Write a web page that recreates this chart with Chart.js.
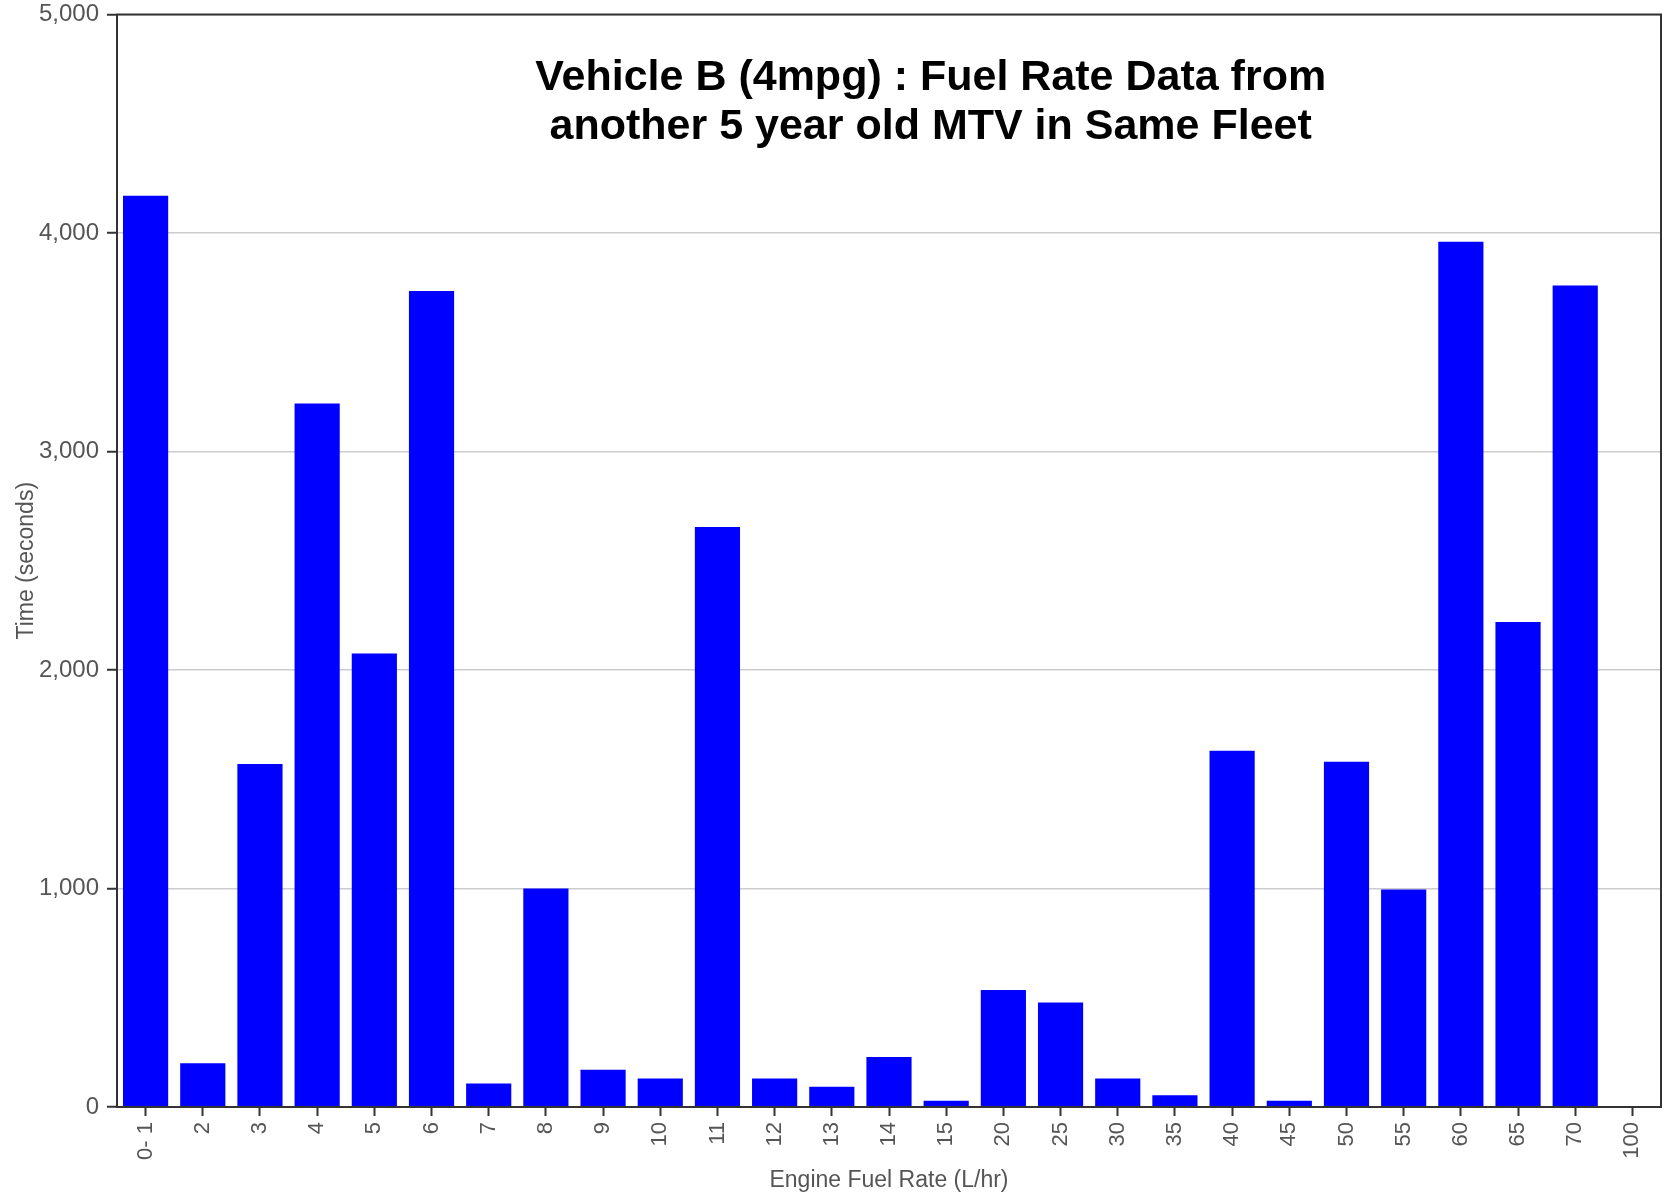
<!DOCTYPE html>
<html>
<head>
<meta charset="utf-8">
<script src="https://cdn.jsdelivr.net/npm/chart.js@4"></script>
<style>
  html, body { margin: 0; padding: 0; background: #fff; }
  canvas { display: block; }
</style>
</head>
<body>
<canvas id="fuelChart" width="1670" height="1194"></canvas>
<script>
// Fuel rate bins (L/hr)
const rateBins = ["0- 1", "2", "3", "4", "5", "6", "7", "8", "9", "10", "11", "12", "13", "14", "15",
    "20", "25", "30", "35", "40", "45", "50", "55", "60", "65", "70", "100"];

// Time spent in each bin (seconds)
const timeSeconds = [4170, 200, 1570, 3220, 2075, 3735, 107, 1000, 170, 130, 2655, 130, 93, 229, 29,
    536, 478, 130, 54, 1630, 29, 1580, 995, 3960, 2220, 3760, 0];

const yTicks = [0, 1000, 2000, 3000, 4000, 5000];

const titleLines = ["Vehicle B (4mpg) : Fuel Rate Data from", "another 5 year old MTV in Same Fleet"];

const axisColor = "#333333";
const textColor = "#555555";
const fontFamily = "'Liberation Sans', Arial, sans-serif";

// Box round the plot and the title inside it
const framePlugin = {
    id: "frame",
    afterDraw(chart) {
        const { ctx, chartArea } = chart;
        ctx.save();
        ctx.strokeStyle = axisColor;
        ctx.lineWidth = 2;
        ctx.strokeRect(chartArea.left, chartArea.top, chartArea.right - chartArea.left, chartArea.bottom - chartArea.top);

        ctx.fillStyle = "#000";
        ctx.font = "bold 43px " + fontFamily;
        ctx.textAlign = "center";
        ctx.textBaseline = "alphabetic";
        const cx = chartArea.left + (chartArea.right - chartArea.left) * 0.527;
        ctx.fillText(titleLines[0], cx, chartArea.top + 75.5);
        ctx.fillText(titleLines[1], cx, chartArea.top + 124.5);
        ctx.restore();
    }
};

new Chart(document.getElementById("fuelChart"), {
    type: "bar",
    data: {
        labels: rateBins,
        datasets: [{
            label: "Time (seconds)",
            data: timeSeconds,
            backgroundColor: "#0000ff",
            borderWidth: 0,
            barPercentage: 0.79,
            categoryPercentage: 1.0
        }]
    },
    options: {
        responsive: false,
        animation: false,
        devicePixelRatio: 1,
        layout: { padding: { top: 14.5, right: 9, left: 0, bottom: 0 } },
        plugins: {
            legend: { display: false },
            tooltip: { enabled: false }
        },
        scales: {
            x: {
                offset: true,
                grid: { display: true, offset: false, drawOnChartArea: false, tickLength: 9, tickColor: axisColor, tickWidth: 2 },
                border: { color: axisColor, width: 2 },
                ticks: { minRotation: 90, maxRotation: 90, autoSkip: false, padding: 6, color: textColor, font: { family: fontFamily, size: 22 } },
                title: { display: true, text: "Engine Fuel Rate (L/hr)", color: textColor, font: { family: fontFamily, size: 23 }, padding: { top: 0, bottom: 0 } },
                afterFit: scale => {
                    scale.height = 87;
                    scale.paddingLeft = 0;
                    scale.paddingRight = 0;
                }
            },
            y: {
                min: 0,
                max: 5000,
                afterBuildTicks: scale => { scale.ticks = yTicks.map(v => ({ value: v })); },
                grid: { color: "#cccccc", lineWidth: 1.5, tickLength: 10, tickColor: axisColor, tickWidth: 2 },
                border: { color: axisColor, width: 2 },
                ticks: { padding: 8, color: textColor, font: { family: fontFamily, size: 24 }, callback: v => v.toLocaleString("en-US") },
                title: { display: true, text: "Time (seconds)", color: textColor, font: { family: fontFamily, size: 23 }, padding: { top: 13, bottom: 0 } },
                afterFit: scale => {
                    scale.width = 117;
                    scale.paddingTop = 0;
                    scale.paddingBottom = 0;
                }
            }
        }
    },
    plugins: [framePlugin]
});
</script>
</body>
</html>
